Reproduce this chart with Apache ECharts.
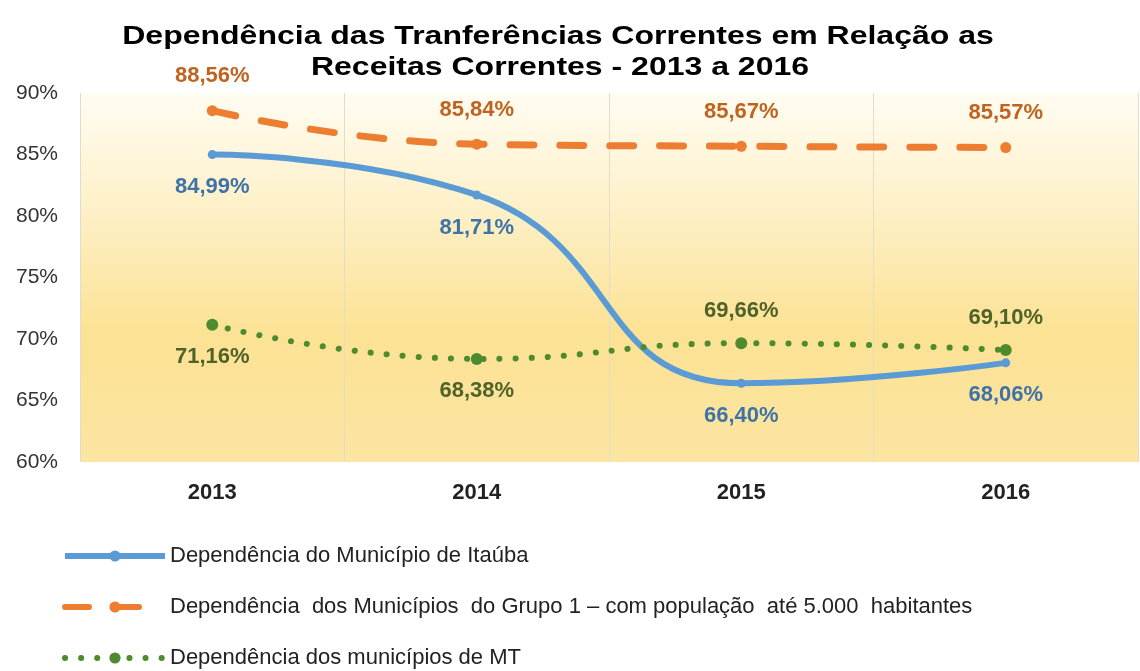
<!DOCTYPE html>
<html>
<head>
<meta charset="utf-8">
<script src="https://cdn.jsdelivr.net/npm/echarts@6/dist/echarts.min.js"></script>
<style>
    html, body { margin: 0; padding: 0; background: #fff; }
    #chart { width: 1140px; height: 671px; }
</style>
</head>
<body>
<div id="chart"></div>
<script>
    var anos = ['2013', '2014', '2015', '2016'];
    var itauba = [84.99, 81.71, 66.40, 68.06];   // Município de Itaúba
    var grupo1 = [88.56, 85.84, 85.67, 85.57];   // Grupo 1 até 5.000 hab
    var mt = [71.16, 68.38, 69.66, 69.10];       // municípios de MT
    var posItauba = ['bottom', 'bottom', 'bottom', 'bottom'];
    var posMt = ['bottom', 'bottom', 'top', 'top'];

    var titulo = ['Dependência das Tranferências Correntes em Relação as', 'Receitas Correntes - 2013 a 2016'];
    var nomes = [
        'Dependência do Município de Itaúba',
        'Dependência  dos Municípios  do Grupo 1 – com população  até 5.000  habitantes',
        'Dependência dos municípios de MT'
    ];

    function fmt(v) {
        return v.toFixed(2).replace('.', ',') + '%';
    }

    function pontos(vals, pos, dist) {
        return vals.map(function (v, i) {
            return { value: v, label: { position: pos[i], distance: dist } };
        });
    }

    var chart = echarts.init(document.getElementById('chart'));

    var labelBase = {
        show: true,
        fontFamily: 'Liberation Sans, Arial',
        fontWeight: 'bold',
        fontSize: 22,
        formatter: function (p) { return fmt(p.value); }
    };

    // titulo desenhado como texto, um pouco esticado na horizontal como no original
    var tituloStyle = {
        fontFamily: 'Liberation Sans, Arial',
        fontWeight: 'bold',
        fontSize: 25,
        fill: '#000',
        align: 'center',
        verticalAlign: 'middle'
    };

    var option = {
        animation: false,
        graphic: [
            {
                type: 'text', x: 558, y: 37, scaleX: 1.28,
                style: Object.assign({ text: titulo[0] }, tituloStyle)
            },
            {
                type: 'text', x: 560, y: 68, scaleX: 1.28,
                style: Object.assign({ text: titulo[1] }, tituloStyle)
            }
        ],
        legend: {
            orient: 'vertical',
            left: 57,
            top: 540,
            height: 140,
            itemWidth: 100,
            itemHeight: 14,
            itemGap: 29,
            lineStyle: { width: 6 },
            textStyle: {
                fontFamily: 'Liberation Sans, Arial',
                fontSize: 22,
                color: '#222'
            },
            data: nomes
        },
        grid: {
            left: 80,
            right: 2,
            top: 93,
            bottom: 209,
            show: true,
            borderWidth: 0,
            backgroundColor: {
                type: 'linear', x: 0, y: 0, x2: 0, y2: 1,
                colorStops: [
                    { offset: 0, color: '#FFFCF2' },
                    { offset: 0.3, color: '#FEF1CA' },
                    { offset: 0.65, color: '#FCE294' },
                    { offset: 1, color: '#FCE5A2' }
                ]
            }
        },
        xAxis: {
            type: 'category',
            data: anos,
            axisLine: { show: false },
            axisTick: { show: false },
            axisLabel: {
                fontFamily: 'Liberation Sans, Arial',
                fontWeight: 'bold',
                fontSize: 22,
                color: '#222',
                margin: 20
            },
            splitLine: { show: true, lineStyle: { color: '#E3DCC8', width: 1 } }
        },
        yAxis: {
            type: 'value',
            min: 60,
            max: 90,
            interval: 5,
            axisLine: { show: false },
            axisTick: { show: false },
            splitLine: { show: false },
            axisLabel: {
                formatter: '{value}%',
                fontFamily: 'Liberation Sans, Arial',
                fontSize: 21,
                color: '#333',
                margin: 22
            }
        },
        series: [
            {
                name: nomes[0],
                type: 'line',
                smooth: 0.5,
                data: pontos(itauba, posItauba, 17),
                symbol: 'circle',
                symbolSize: 9,
                itemStyle: { color: '#5B9BD5' },
                lineStyle: { color: '#5B9BD5', width: 6 },
                label: Object.assign({ color: '#3F73A8' }, labelBase),
                z: 3
            },
            {
                name: nomes[1],
                type: 'line',
                smooth: 0.5,
                data: grupo1.map(function (v) { return { value: v }; }),
                symbol: 'circle',
                symbolSize: 11,
                itemStyle: { color: '#ED7D31' },
                lineStyle: { color: '#ED7D31', width: 7, type: [24, 26], cap: 'round' },
                label: Object.assign({ color: '#C0631F', position: 'top', distance: 18 }, labelBase),
                z: 2
            },
            {
                name: nomes[2],
                type: 'line',
                smooth: 0.5,
                data: pontos(mt, posMt, 15),
                symbol: 'circle',
                symbolSize: 12,
                itemStyle: { color: '#4E8A2E' },
                lineStyle: { color: '#4E8A2E', width: 6, type: [0.1, 16], cap: 'round' },
                label: Object.assign({ color: '#4F6228' }, labelBase),
                z: 4
            }
        ]
    };

    chart.setOption(option);
</script>
</body>
</html>
